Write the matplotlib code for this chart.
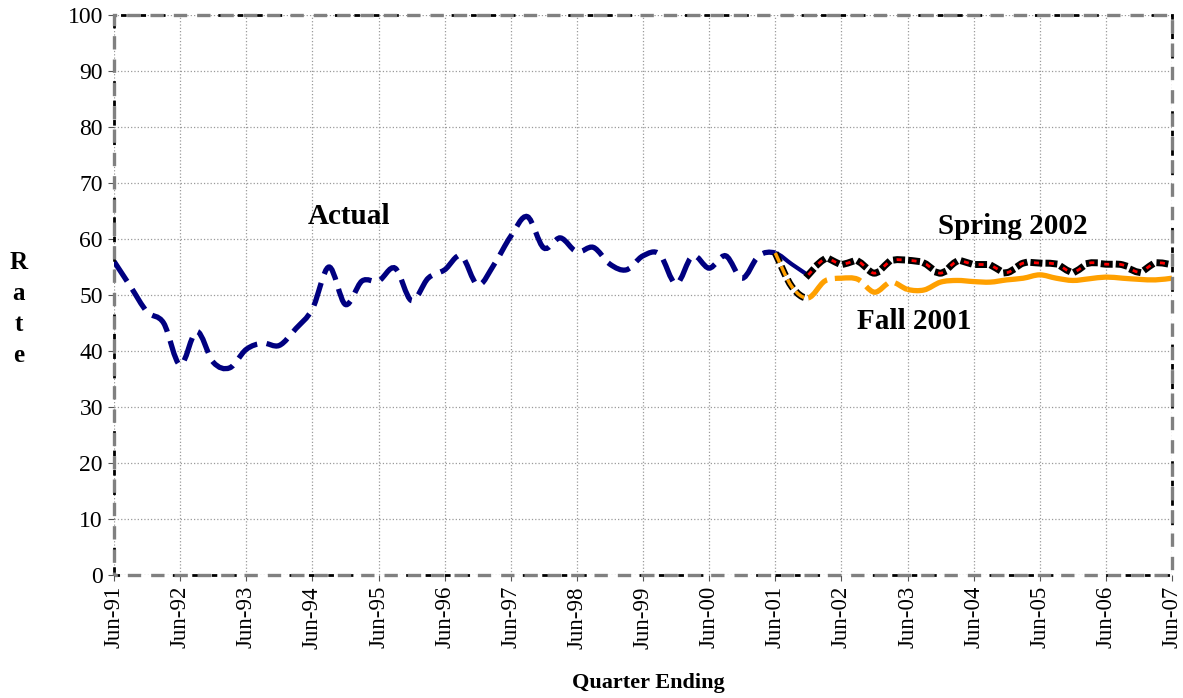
import numpy as np
import matplotlib
matplotlib.use("Agg")
import matplotlib.pyplot as plt
from matplotlib.path import Path
from matplotlib.patches import PathPatch, Rectangle
import matplotlib.patheffects as pe

plt.rcParams['font.family'] = ['Liberation Serif', 'DejaVu Serif']

# quarterly tick labels (every June)
tick_labels = ["Jun-91", "Jun-92", "Jun-93", "Jun-94", "Jun-95", "Jun-96", "Jun-97", "Jun-98",
               "Jun-99", "Jun-00", "Jun-01", "Jun-02", "Jun-03", "Jun-04", "Jun-05", "Jun-06", "Jun-07"]

# Actual: Jun-91 .. Dec-01 (quarter index 0..42)
actual = [56.0, 51.5, 47.0, 45.0, 37.5, 43.5, 38.0, 37.0, 40.3, 41.4, 41.0, 44.0,
          47.5, 55.0, 48.3, 52.5, 52.5, 54.8, 49.0, 53.0, 54.5, 57.0, 51.8, 55.5,
          60.5, 64.0, 58.4, 60.2, 57.7, 58.5, 55.5, 54.5, 57.0, 57.3, 52.0, 57.0,
          54.8, 57.0, 53.0, 57.0, 57.5, 55.5, 53.5]

# Fall 2001 forecast: Jun-01 .. Jun-07 (quarter index 40..64)
fall_start = 40
fall2001 = [57.5, 51.5, 49.5, 52.5, 53.0, 52.8, 50.5, 52.3, 51.0, 50.9, 52.3, 52.6,
            52.4, 52.3, 52.7, 53.0, 53.6, 53.0, 52.6, 52.9, 53.2, 53.0, 52.8, 52.7, 53.0]

# Spring 2002 forecast: Dec-01 .. Jun-07 (quarter index 42..64)
spring_start = 42
spring2002 = [53.6, 56.4, 55.5, 56.0, 53.9, 56.1, 56.2, 55.7, 53.9, 56.0, 55.5, 55.3,
              54.0, 55.7, 55.7, 55.5, 54.1, 55.7, 55.5, 55.4, 54.1, 55.7, 55.4]


def smooth(ax, x, y, i0, i1, **kw):
    # Bezier path (Excel-like smoothed line) through the points i0..i1
    x = np.asarray(x, float)
    y = np.asarray(y, float)
    n = len(x)
    verts = [(x[i0], y[i0])]
    codes = [Path.MOVETO]
    for i in range(i0, i1):
        p0 = np.array([x[max(i - 1, 0)], y[max(i - 1, 0)]])
        p1 = np.array([x[i], y[i]])
        p2 = np.array([x[i + 1], y[i + 1]])
        p3 = np.array([x[min(i + 2, n - 1)], y[min(i + 2, n - 1)]])
        c1 = p1 + (p2 - p0) / 6.0
        c2 = p2 - (p3 - p1) / 6.0
        verts += [tuple(c1), tuple(c2), tuple(p2)]
        codes += [Path.CURVE4] * 3
    patch = PathPatch(Path(verts, codes), fill=False, **kw)
    ax.add_patch(patch)
    return patch


fig = plt.figure(figsize=(11.83, 6.98), dpi=100)
ax = fig.add_axes([0.0964, 0.1762, 0.8943, 0.8023])

xa = np.arange(len(actual))
xf = np.arange(len(fall2001)) + fall_start
xs = np.arange(len(spring2002)) + spring_start

navy = "#000080"
orange = "#FFA000"

# Actual
smooth(ax, xa, actual, 0, 40, edgecolor=navy, linewidth=3.8,
       linestyle=(0, (4.5, 1.8)), capstyle='butt', zorder=3)
smooth(ax, xa, actual, 40, 42, edgecolor=navy, linewidth=3.0, zorder=3)

# Fall 2001
smooth(ax, xf, fall2001, 0, 2, edgecolor=orange, linewidth=2.5,
       linestyle=(0, (3, 1.2)), zorder=4,
       path_effects=[pe.Stroke(linewidth=5, foreground='black'), pe.Normal()])
smooth(ax, xf, fall2001, 2, 8, edgecolor=orange, linewidth=3.8,
       linestyle=(0, (5, 1.5)), zorder=4)
smooth(ax, xf, fall2001, 8, 24, edgecolor=orange, linewidth=3.8, zorder=4)

# Spring 2002
smooth(ax, xs, spring2002, 0, 22, edgecolor='red', linewidth=2.0,
       linestyle=(0, (1.8, 3.6)), capstyle='butt', zorder=5,
       path_effects=[pe.Stroke(linewidth=5.0, foreground='black', capstyle='projecting'),
                     pe.Normal()])

ax.set_xlim(0, 64)
ax.set_ylim(0, 100)
ax.set_xticks(np.arange(0, 65, 4))
ax.set_xticklabels(tick_labels, rotation=90, fontsize=16.5)
ax.set_yticks(np.arange(0, 101, 10))
ax.tick_params(axis='y', labelsize=17, length=4, color='#555555', pad=4)
ax.tick_params(axis='x', length=4, color='#555555', pad=4)
ax.grid(True, color='#9a9a9a', linestyle=':', linewidth=0.9)
ax.set_axisbelow(True)

for s in ax.spines.values():
    s.set_visible(False)
ax.add_patch(Rectangle((0, 0), 1, 1, transform=ax.transAxes, fill=False,
                       edgecolor='black', linewidth=2.0, linestyle=(0, (2, 5)),
                       clip_on=False, zorder=6))
ax.add_patch(Rectangle((0, 0), 1, 1, transform=ax.transAxes, fill=False,
                       edgecolor='#808080', linewidth=2.4, linestyle=(3, (4, 3)),
                       clip_on=False, zorder=7))

ax.text(14.2, 64, "Actual", fontsize=21, fontweight='bold', ha='center', va='center')
ax.text(54.4, 62.3, "Spring 2002", fontsize=21, fontweight='bold', ha='center', va='center')
ax.text(48.4, 45.2, "Fall 2001", fontsize=21, fontweight='bold', ha='center', va='center')

fig.text(0.548, 0.022, "Quarter Ending", fontsize=16, fontweight='bold', ha='center', va='center')
fig.text(0.016, 0.557, "R\na\nt\ne", fontsize=18, fontweight='bold', ha='center', va='center',
         linespacing=1.45)

fig.savefig("out.png", dpi=100)
